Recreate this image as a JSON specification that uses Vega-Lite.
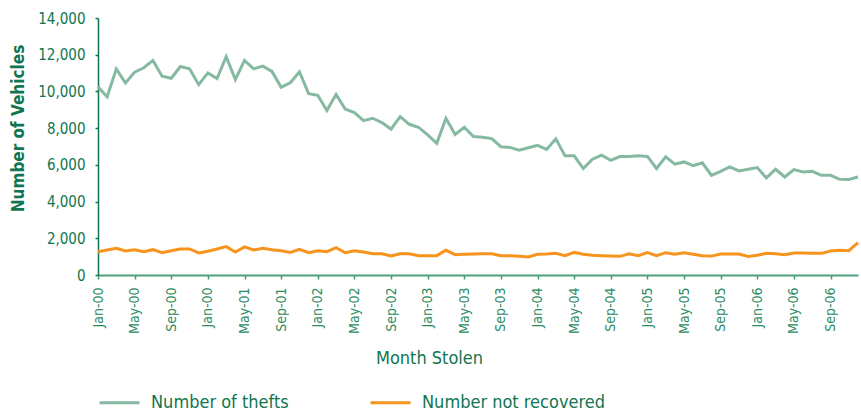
{
  "$schema": "https://vega.github.io/schema/vega-lite/v6.json",
  "width": 760,
  "height": 257,
  "autosize": "none",
  "padding": {"left": 98, "top": 18, "right": 3, "bottom": 136},
  "background": "white",
  "config": {
    "font": "'DejaVu Sans Condensed', 'DejaVu Sans', sans-serif",
    "view": {"stroke": null}
  },
  "data": {
    "values": [
      {"m": "2000-01", "thefts": 10250, "notRecovered": 1270},
      {"m": "2000-02", "thefts": 9700, "notRecovered": 1360},
      {"m": "2000-03", "thefts": 11230, "notRecovered": 1450},
      {"m": "2000-04", "thefts": 10460, "notRecovered": 1310},
      {"m": "2000-05", "thefts": 11050, "notRecovered": 1380},
      {"m": "2000-06", "thefts": 11290, "notRecovered": 1270},
      {"m": "2000-07", "thefts": 11690, "notRecovered": 1380},
      {"m": "2000-08", "thefts": 10830, "notRecovered": 1215},
      {"m": "2000-09", "thefts": 10720, "notRecovered": 1325},
      {"m": "2000-10", "thefts": 11360, "notRecovered": 1420},
      {"m": "2000-11", "thefts": 11230, "notRecovered": 1420},
      {"m": "2000-12", "thefts": 10370, "notRecovered": 1200},
      {"m": "2001-01", "thefts": 11010, "notRecovered": 1290},
      {"m": "2001-02", "thefts": 10700, "notRecovered": 1420},
      {"m": "2001-03", "thefts": 11890, "notRecovered": 1545},
      {"m": "2001-04", "thefts": 10650, "notRecovered": 1250},
      {"m": "2001-05", "thefts": 11690, "notRecovered": 1530},
      {"m": "2001-06", "thefts": 11230, "notRecovered": 1360},
      {"m": "2001-07", "thefts": 11380, "notRecovered": 1450},
      {"m": "2001-08", "thefts": 11090, "notRecovered": 1380},
      {"m": "2001-09", "thefts": 10230, "notRecovered": 1325},
      {"m": "2001-10", "thefts": 10470, "notRecovered": 1230},
      {"m": "2001-11", "thefts": 11070, "notRecovered": 1400},
      {"m": "2001-12", "thefts": 9880, "notRecovered": 1215},
      {"m": "2002-01", "thefts": 9790, "notRecovered": 1325},
      {"m": "2002-02", "thefts": 8960, "notRecovered": 1270},
      {"m": "2002-03", "thefts": 9840, "notRecovered": 1490},
      {"m": "2002-04", "thefts": 9040, "notRecovered": 1215},
      {"m": "2002-05", "thefts": 8850, "notRecovered": 1325},
      {"m": "2002-06", "thefts": 8410, "notRecovered": 1250},
      {"m": "2002-07", "thefts": 8540, "notRecovered": 1160},
      {"m": "2002-08", "thefts": 8300, "notRecovered": 1160},
      {"m": "2002-09", "thefts": 7950, "notRecovered": 1040},
      {"m": "2002-10", "thefts": 8630, "notRecovered": 1160},
      {"m": "2002-11", "thefts": 8210, "notRecovered": 1160},
      {"m": "2002-12", "thefts": 8050, "notRecovered": 1055},
      {"m": "2003-01", "thefts": 7630, "notRecovered": 1055},
      {"m": "2003-02", "thefts": 7170, "notRecovered": 1055},
      {"m": "2003-03", "thefts": 8540, "notRecovered": 1345},
      {"m": "2003-04", "thefts": 7660, "notRecovered": 1110},
      {"m": "2003-05", "thefts": 8050, "notRecovered": 1130},
      {"m": "2003-06", "thefts": 7540, "notRecovered": 1140},
      {"m": "2003-07", "thefts": 7500, "notRecovered": 1160},
      {"m": "2003-08", "thefts": 7430, "notRecovered": 1160},
      {"m": "2003-09", "thefts": 6990, "notRecovered": 1055},
      {"m": "2003-10", "thefts": 6950, "notRecovered": 1055},
      {"m": "2003-11", "thefts": 6800, "notRecovered": 1020},
      {"m": "2003-12", "thefts": 6930, "notRecovered": 980},
      {"m": "2004-01", "thefts": 7060, "notRecovered": 1130},
      {"m": "2004-02", "thefts": 6840, "notRecovered": 1140},
      {"m": "2004-03", "thefts": 7420, "notRecovered": 1180},
      {"m": "2004-04", "thefts": 6490, "notRecovered": 1055},
      {"m": "2004-05", "thefts": 6490, "notRecovered": 1230},
      {"m": "2004-06", "thefts": 5800, "notRecovered": 1130},
      {"m": "2004-07", "thefts": 6310, "notRecovered": 1075},
      {"m": "2004-08", "thefts": 6530, "notRecovered": 1055},
      {"m": "2004-09", "thefts": 6250, "notRecovered": 1030},
      {"m": "2004-10", "thefts": 6450, "notRecovered": 1015},
      {"m": "2004-11", "thefts": 6460, "notRecovered": 1160},
      {"m": "2004-12", "thefts": 6490, "notRecovered": 1055},
      {"m": "2005-01", "thefts": 6460, "notRecovered": 1215},
      {"m": "2005-02", "thefts": 5800, "notRecovered": 1055},
      {"m": "2005-03", "thefts": 6440, "notRecovered": 1215},
      {"m": "2005-04", "thefts": 6040, "notRecovered": 1130},
      {"m": "2005-05", "thefts": 6160, "notRecovered": 1215},
      {"m": "2005-06", "thefts": 5960, "notRecovered": 1130},
      {"m": "2005-07", "thefts": 6110, "notRecovered": 1055},
      {"m": "2005-08", "thefts": 5430, "notRecovered": 1030},
      {"m": "2005-09", "thefts": 5650, "notRecovered": 1140},
      {"m": "2005-10", "thefts": 5890, "notRecovered": 1140},
      {"m": "2005-11", "thefts": 5670, "notRecovered": 1140},
      {"m": "2005-12", "thefts": 5760, "notRecovered": 1015},
      {"m": "2006-01", "thefts": 5850, "notRecovered": 1075},
      {"m": "2006-02", "thefts": 5290, "notRecovered": 1180},
      {"m": "2006-03", "thefts": 5760, "notRecovered": 1160},
      {"m": "2006-04", "thefts": 5340, "notRecovered": 1110},
      {"m": "2006-05", "thefts": 5740, "notRecovered": 1200},
      {"m": "2006-06", "thefts": 5610, "notRecovered": 1200},
      {"m": "2006-07", "thefts": 5650, "notRecovered": 1180},
      {"m": "2006-08", "thefts": 5430, "notRecovered": 1180},
      {"m": "2006-09", "thefts": 5430, "notRecovered": 1310},
      {"m": "2006-10", "thefts": 5210, "notRecovered": 1345},
      {"m": "2006-11", "thefts": 5200, "notRecovered": 1325},
      {"m": "2006-12", "thefts": 5340, "notRecovered": 1765}
    ]
  },
  "transform": [{"fold": ["thefts", "notRecovered"], "as": ["series", "v"]}],
  "mark": {"type": "line", "strokeWidth": 3},
  "encoding": {
    "x": {
      "field": "m",
      "type": "ordinal",
      "sort": "ascending",
      "scale": {"type": "point", "padding": 0},
      "axis": {
        "values": ["2000-01","2000-05","2000-09","2001-01","2001-05","2001-09","2002-01","2002-05","2002-09","2003-01","2003-05","2003-09","2004-01","2004-05","2004-09","2005-01","2005-05","2005-09","2006-01","2006-05","2006-09"],
        "labelExpr": "datum.value == '2001-01' ? 'Jan-00' : ['Jan','Feb','Mar','Apr','May','Jun','Jul','Aug','Sep','Oct','Nov','Dec'][toNumber(substring(datum.value,5,7))-1] + '-' + substring(datum.value,2,4)",
        "labelAngle": -90,
        "labelFontSize": 14,
        "labelColor": "#2b8a62",
        "labelPadding": 8,
        "tickSize": 4,
        "tickColor": "#3f9a72",
        "domainColor": "#4ea07c",
        "domainWidth": 2,
        "tickWidth": 1.5,
        "grid": false,
        "title": "Month Stolen",
        "titleFontSize": 18,
        "titleFontWeight": "normal",
        "titleColor": "#107550",
        "titleAlign": "center",
        "titleBaseline": "alphabetic",
        "titleX": 331,
        "titleY": 88
      }
    },
    "y": {
      "field": "v",
      "type": "quantitative",
      "scale": {"domain": [0, 14000], "nice": false},
      "axis": {
        "values": [0, 2000, 4000, 6000, 8000, 10000, 12000, 14000],
        "format": ",.0f",
        "labelFontSize": 15,
        "labelColor": "#107550",
        "labelPadding": 10,
        "tickSize": 3,
        "tickColor": "#107550",
        "domainColor": "#107550",
        "domainWidth": 1.5,
        "tickWidth": 1.5,
        "grid": false,
        "title": "Number of Vehicles",
        "titleFontSize": 17,
        "titleFontWeight": "bold",
        "titleColor": "#107550",
        "titleAlign": "center",
        "titleBaseline": "alphabetic",
        "titleX": -75,
        "titleY": 110
      }
    },
    "color": {
      "field": "series",
      "type": "nominal",
      "scale": {"domain": ["thefts", "notRecovered"], "range": ["#86b9a1", "#f7941d"]},
      "legend": {
        "title": null,
        "orient": "none",
        "legendX": 0,
        "legendY": 363,
        "direction": "horizontal",
        "symbolType": "stroke",
        "symbolSize": 1600,
        "symbolStrokeWidth": 3,
        "labelFontSize": 18,
        "labelColor": "#107550",
        "labelOffset": 10,
        "labelLimit": 400,
        "columnPadding": 75,
        "labelExpr": "datum.label == 'thefts' ? 'Number of thefts' : 'Number not recovered'"
      }
    }
  }
}
